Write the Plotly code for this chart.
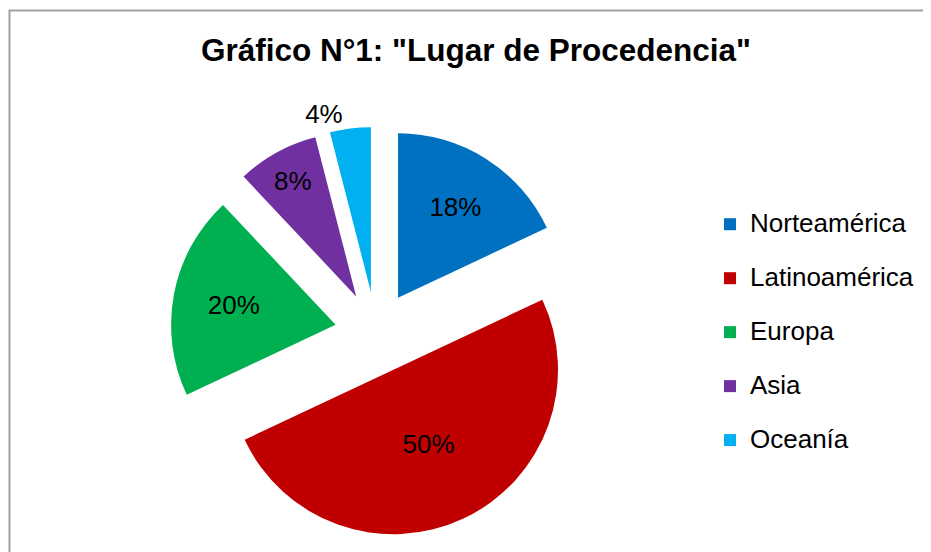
import plotly.graph_objects as go

categories = ["Norteamérica", "Latinoamérica", "Europa", "Asia", "Oceanía"]
values = [18, 50, 20, 8, 4]
colors = ["#0070C0", "#C00000", "#00B050", "#7030A0", "#00B0F0"]
title_text = 'Gráfico N°1: "Lugar de Procedencia"'

W, H = 931, 552
FONT = "Liberation Sans, Arial, sans-serif"

# legend labels: large first line, blank second line to reproduce row spacing
legend_labels = [f"<span style='font-size:26px'>{c}</span><br> " for c in categories]

# pie box (figure px): centre (368, 324.5), radius 164.5, pull 0.25
cx, cy, half = 368, 324.5, 164.5 * 1.25

fig = go.Figure(go.Pie(
    labels=legend_labels,
    values=values,
    sort=False,
    direction="clockwise",
    rotation=0,
    pull=[0.25] * len(values),
    marker=dict(colors=colors, line=dict(width=0)),
    textinfo="percent",
    textposition=["inside", "inside", "inside", "inside", "outside"],
    insidetextorientation="horizontal",
    textfont=dict(family=FONT, size=26, color="black"),
    insidetextfont=dict(family=FONT, size=26, color="black"),
    outsidetextfont=dict(family=FONT, size=26, color="black"),
    domain=dict(x=[(cx - half) / W, (cx + half) / W],
                y=[(H - (cy + half)) / H, (H - (cy - half)) / H]),
    hoverinfo="label+percent",
))

fig.update_layout(
    width=W, height=H,
    margin=dict(l=0, r=0, t=0, b=0, autoexpand=False),
    paper_bgcolor="white",
    plot_bgcolor="white",
    title=dict(text=title_text, x=468 / W, xanchor="center",
               y=1 - 42 / H, yanchor="middle", yref="container",
               font=dict(family=FONT, size=31.5, color="black", weight="bold")),
    legend=dict(x=702 / W, xanchor="left", y=1 - 197 / H, yanchor="top",
                font=dict(family=FONT, size=19.6, color="black"),
                valign="top", bgcolor="rgba(0,0,0,0)", borderwidth=0),
    shapes=[dict(type="rect", xref="paper", yref="paper",
                 x0=1.5 / W, x1=1.2, y0=-0.2, y1=1 - 2.5 / H,
                 line=dict(color="#A0A0A0", width=2), fillcolor="rgba(0,0,0,0)",
                 layer="below")],
)

fig.write_html("out.html")
